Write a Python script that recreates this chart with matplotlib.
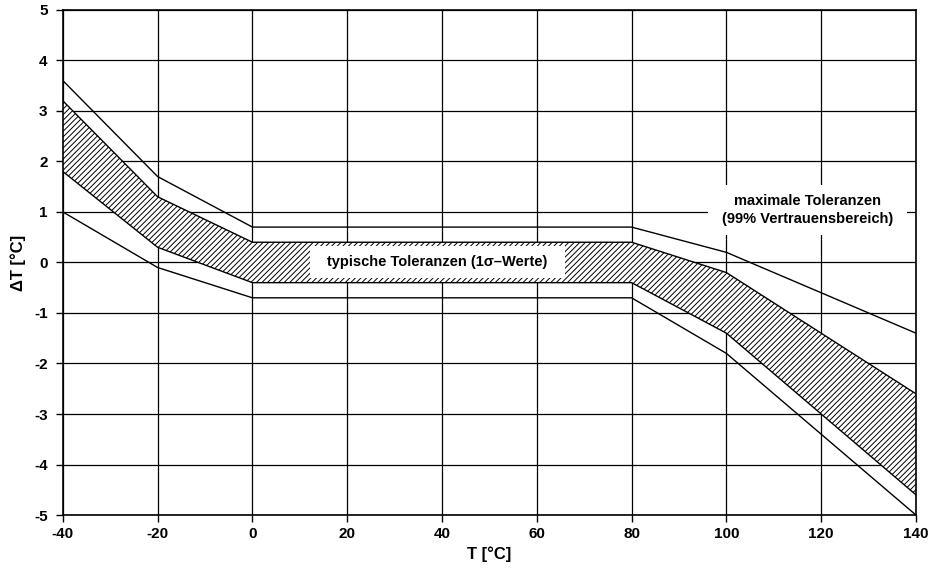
import matplotlib
matplotlib.use("Agg")
import matplotlib.pyplot as plt
from matplotlib.patches import Rectangle

plt.rcParams['font.family'] = ['Liberation Sans', 'DejaVu Sans']
plt.rcParams['hatch.linewidth'] = 0.7
plt.rcParams['axes.unicode_minus'] = False

temps = [-40, -20, 0, 80, 100, 140]
max_upper = [3.6, 1.7, 0.7, 0.7, 0.2, -1.4]
max_lower = [1.0, -0.1, -0.7, -0.7, -1.8, -5.0]
typ_upper = [3.2, 1.3, 0.4, 0.4, -0.2, -2.6]
typ_lower = [1.8, 0.3, -0.4, -0.4, -1.4, -4.6]

xticks = list(range(-40, 141, 20))
yticks = list(range(-5, 6, 1))

fig = plt.figure(figsize=(9.38, 5.8), dpi=100)
ax = fig.add_axes([0.067, 0.112, 0.9095, 0.871])

ax.set_xlim(-40, 140)
ax.set_ylim(-5, 5)
ax.set_xticks(xticks)
ax.set_yticks(yticks)
ax.grid(True, color='black', linewidth=0.9, zorder=0)
ax.set_axisbelow(True)

ax.fill_between(temps, typ_lower, typ_upper, facecolor='white', edgecolor='black',
                hatch='//////', linewidth=0, zorder=2)
ax.plot(temps, typ_upper, color='black', linewidth=1.0, zorder=3)
ax.plot(temps, typ_lower, color='black', linewidth=1.0, zorder=3)
ax.plot(temps, max_upper, color='black', linewidth=1.0, zorder=3)
ax.plot(temps, max_lower, color='black', linewidth=1.0, zorder=3)

ax.add_patch(Rectangle((12.1, -0.31), 53.8, 0.64, facecolor='white', edgecolor='none', zorder=4))
ax.add_patch(Rectangle((96.1, 0.545), 42.0, 0.99, facecolor='white', edgecolor='none', zorder=4))

ax.text(39, 0.0, 'typische Toleranzen (1σ\u2013Werte)', ha='center', va='center',
        fontsize=10.5, fontweight='bold', zorder=5)
ax.text(117.2, 1.04, 'maximale Toleranzen\n(99% Vertrauensbereich)', ha='center', va='center',
        fontsize=10.5, fontweight='bold', zorder=5, linespacing=1.3)

for s in ax.spines.values():
    s.set_linewidth(1.2)
    s.set_color('black')
ax.tick_params(axis='both', direction='out', length=5, width=1, labelsize=11)
ax.tick_params(axis='y', pad=6)
for lbl in ax.get_xticklabels() + ax.get_yticklabels():
    lbl.set_fontweight('bold')

ax.set_xlabel('T [°C]', fontsize=12, fontweight='bold', labelpad=4)
ax.set_ylabel('ΔT [°C]', fontsize=12, fontweight='bold', labelpad=6)

fig.savefig('out.png', dpi=100)
